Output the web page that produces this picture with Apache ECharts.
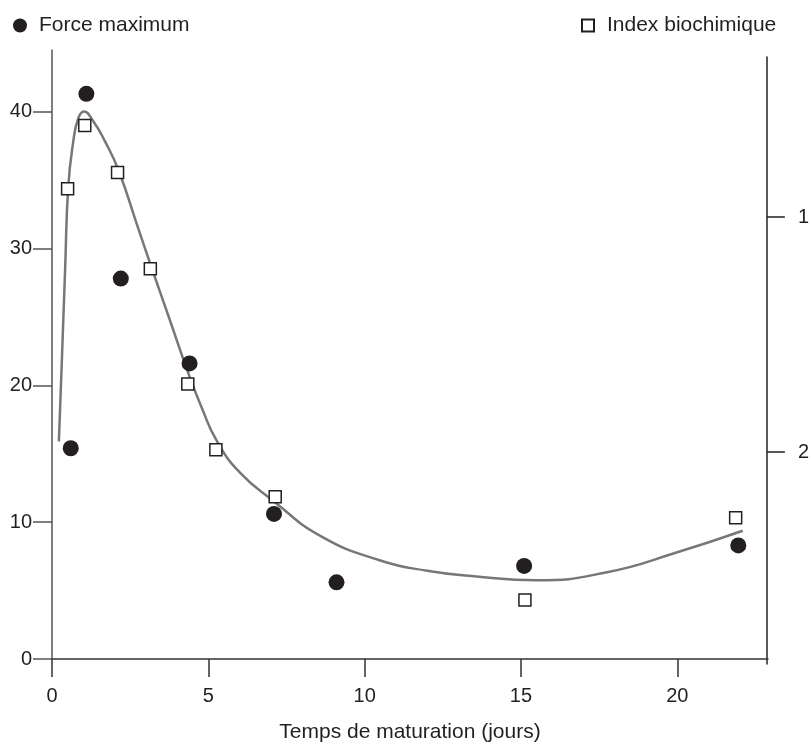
<!DOCTYPE html>
<html>
<head>
<meta charset="utf-8">
<script src="https://cdn.jsdelivr.net/npm/echarts@6/dist/echarts.min.js"></script>
<style>
html,body{margin:0;padding:0;background:#fff;}
#chart{width:812px;height:748px;}
</style>
</head>
<body>
<div id="chart"></div>
<script>
// Force maximum (left axis)
var forceX = [0.6, 1.1, 2.2, 4.4, 7.1, 9.1, 15.1, 21.95];
var forceY = [15.4, 41.3, 27.8, 21.6, 10.6, 5.6, 6.8, 8.3];
// Index biochimique (right axis, inverted)
var indexX = [0.5, 1.05, 2.1, 3.15, 4.35, 5.25, 7.15, 15.15, 21.9];
var indexY = [0.88, 0.61, 0.81, 1.22, 1.71, 1.99, 2.19, 2.63, 2.28];
// Fitted curve (left-axis units)
var curveX = [0.22, 0.32, 0.42, 0.52, 0.68, 0.84, 1.02, 1.32, 1.7, 2.13, 2.71, 3.17, 3.78, 4.31, 4.8, 5.28, 6.02, 7.08, 8.58, 10.5, 12, 13.5, 15.5, 17.75, 20, 22.09];
var curveY = [15.9, 22.1, 28.5, 34.5, 37.8, 39.5, 40.0, 39.3, 37.8, 35.7, 31.8, 28.7, 24.7, 21.2, 18.3, 15.9, 13.6, 11.55, 9.0, 7.2, 6.45, 6.05, 5.75, 6.34, 7.8, 9.37];
// Ticks
var xTicks = [0, 5, 10, 15, 20];
var leftTicks = [0, 10, 20, 30, 40];
var rightTicks = [1, 2];
var xTitle = 'Temps de maturation (jours)';
var nameForce = 'Force maximum';
var nameIndex = 'Index biochimique';

function pairs(xs, ys) { return xs.map(function (x, i) { return [x, ys[i]]; }); }

var chart = echarts.init(document.getElementById('chart'), null, {renderer: 'canvas'});
var font = 'Liberation Sans, Arial, Helvetica, sans-serif';
chart.setOption({
  animation: false,
  backgroundColor: '#fff',
  textStyle: {fontFamily: font, color: '#231f20'},
  legend: [
    {data: [{name: nameForce, icon: 'circle'}], left: 8, top: 10, itemWidth: 14, itemHeight: 14,
     textStyle: {fontSize: 21, color: '#231f20', fontFamily: font, padding: [0, 0, 0, 7]}, selectedMode: false},
    {data: [{name: nameIndex, icon: 'rect'}], left: 576, top: 10, itemWidth: 12, itemHeight: 12,
     textStyle: {fontSize: 21, color: '#231f20', fontFamily: font, padding: [0, 0, 0, 8]}, selectedMode: false}
  ],
  grid: [
    {left: 52, right: 44, top: 50, bottom: 84, containLabel: false},
    {left: 52, right: 44, top: 57, bottom: 84, containLabel: false}
  ],
  xAxis: [
    {
      type: 'value', gridIndex: 0, min: 0, max: 22.9,
      name: xTitle, nameLocation: 'middle', nameGap: 63,
      nameTextStyle: {fontSize: 21, color: '#231f20', fontFamily: font},
      axisLine: {show: true, onZero: false, lineStyle: {color: '#333', width: 1.5}},
      axisTick: {show: true, inside: false, length: 18, customValues: xTicks, lineStyle: {color: '#333', width: 1.5}},
      axisLabel: {fontSize: 20, color: '#231f20', margin: 27, customValues: xTicks},
      splitLine: {show: false}
    },
    {type: 'value', gridIndex: 1, min: 0, max: 22.9, show: false}
  ],
  yAxis: [
    {
      type: 'value', gridIndex: 0, min: 0, max: 44.5, position: 'left',
      axisLine: {show: true, onZero: false, lineStyle: {color: '#555', width: 1.5}},
      axisTick: {show: true, inside: false, length: 19, customValues: leftTicks, lineStyle: {color: '#555', width: 1.5}},
      axisLabel: {fontSize: 20, color: '#231f20', margin: 20, customValues: leftTicks},
      splitLine: {show: false}
    },
    {
      type: 'value', gridIndex: 1, min: 0.319, max: 2.902, inverse: true, position: 'right',
      axisLine: {show: true, onZero: false, lineStyle: {color: '#222', width: 1.5}},
      axisTick: {show: true, inside: false, length: 18, customValues: rightTicks, lineStyle: {color: '#222', width: 1.5}},
      axisLabel: {fontSize: 20, color: '#231f20', margin: 31, customValues: rightTicks},
      splitLine: {show: false}
    }
  ],
  series: [
    {
      name: 'courbe', type: 'line', xAxisIndex: 0, yAxisIndex: 0, data: pairs(curveX, curveY),
      smooth: 0.5, showSymbol: false, symbol: 'none',
      lineStyle: {color: '#777', width: 2.5}, z: 1, silent: true
    },
    {
      name: nameIndex, type: 'scatter', xAxisIndex: 1, yAxisIndex: 1, data: pairs(indexX, indexY),
      symbol: 'rect', symbolSize: 12,
      itemStyle: {color: '#fff', borderColor: '#231f20', borderWidth: 1.5, opacity: 1}, z: 3
    },
    {
      name: nameForce, type: 'scatter', xAxisIndex: 0, yAxisIndex: 0, data: pairs(forceX, forceY),
      symbol: 'circle', symbolSize: 16,
      itemStyle: {color: '#231f20', opacity: 1}, z: 4
    }
  ]
});
</script>
</body>
</html>
